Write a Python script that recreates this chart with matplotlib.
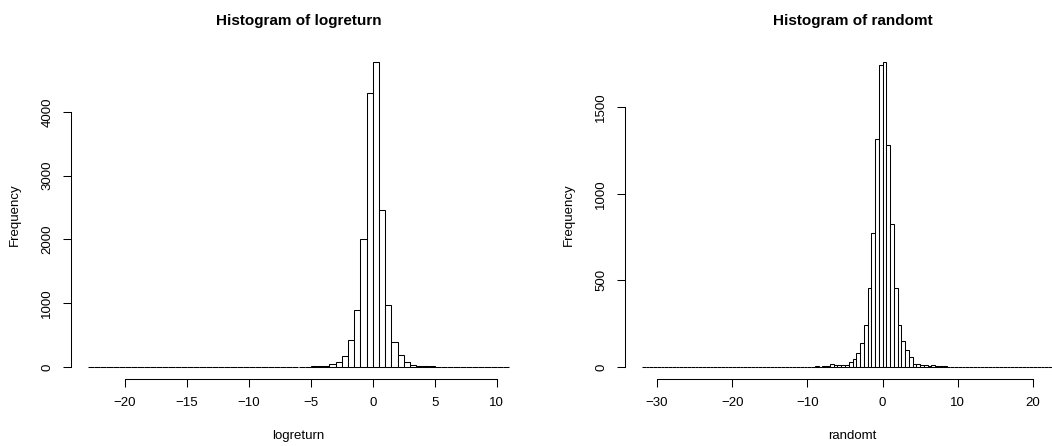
import matplotlib.pyplot as plt
import numpy as np

plt.rcParams['font.family'] = ['Liberation Sans', 'DejaVu Sans']

# bin edges (width 0.5) and counts
logreturn_edges = np.arange(-23, 11.01, 0.5)
logreturn_counts = (
    [1] + [0] * 26 +
    [2, 1, 0, 1, 2, 1, 2, 3, 4, 5, 8, 18, 42, 83, 162, 413, 895, 2010, 4300,
     4780, 2455, 975, 397, 183, 73, 31, 20, 10, 6, 4, 2, 2, 1, 1, 0, 1, 0, 1,
     0, 0, 1]
)

randomt_edges = np.arange(-32, 24.01, 0.5)
randomt_counts = (
    [1] + [0] * 43 +
    [1, 1, 2, 1, 3, 4, 18, 10, 8, 10, 13, 26, 43, 81, 136, 240, 457, 772,
     1317, 1743, 1760, 1284, 824, 457, 240, 150, 98, 54, 19, 15, 10, 8, 6, 10,
     5, 3, 2, 1, 1, 0, 1] +
    [0] * 27
)

W, H = 1052, 446


def r_hist(fig, rect_px, edges, counts, name, xticks, yticks):
    left, top, right, bottom = rect_px
    ax = fig.add_axes([left / W, 1 - bottom / H, (right - left) / W, (bottom - top) / H])
    counts = np.array(counts)
    ax.bar(edges[:-1], counts, width=0.5, align='edge', facecolor='white',
           edgecolor='black', linewidth=0.75)
    span = edges[-1] - edges[0]
    ax.set_xlim(edges[0] - 0.04 * span, edges[-1] + 0.04 * span)
    top_c = counts.max()
    ax.set_ylim(-0.04 * top_c, 1.04 * top_c)

    for s in ['top', 'right']:
        ax.spines[s].set_visible(False)
    ax.spines['bottom'].set_bounds(xticks[0], xticks[-1])
    ax.spines['left'].set_bounds(yticks[0], yticks[-1])
    for s in ['bottom', 'left']:
        ax.spines[s].set_linewidth(0.75)
    ax.set_xticks(xticks)
    ax.set_xticklabels([str(t).replace('-', '\u2212') for t in xticks])
    ax.set_yticks(yticks)
    ax.tick_params(axis='both', direction='out', length=5.8, width=0.75,
                   labelsize=9.5, pad=7)
    ax.tick_params(axis='y', labelrotation=90)
    for lab in ax.get_yticklabels():
        lab.set_va('center')

    ax.set_title('Histogram of ' + name, fontsize=11, fontweight='bold', pad=18)
    ax.set_xlabel(name, fontsize=9.5)
    ax.xaxis.label.set_va('center')
    ax.xaxis.set_label_coords(0.5, -(435.7 - bottom) / (bottom - top))
    ax.set_ylabel('Frequency', fontsize=9.5)
    ax.yaxis.label.set_va('center')
    ax.yaxis.set_label_coords(-56 / (right - left), 0.5)
    return ax


fig = plt.figure(figsize=(W / 100, H / 100), dpi=100)
r_hist(fig, (71, 50, 526, 379), logreturn_edges, logreturn_counts, 'logreturn',
       [-20, -15, -10, -5, 0, 5, 10], [0, 1000, 2000, 3000, 4000])
r_hist(fig, (625, 50, 1080, 379), randomt_edges, randomt_counts, 'randomt',
       [-30, -20, -10, 0, 10, 20], [0, 500, 1000, 1500])

fig.savefig('out.png', dpi=100)
